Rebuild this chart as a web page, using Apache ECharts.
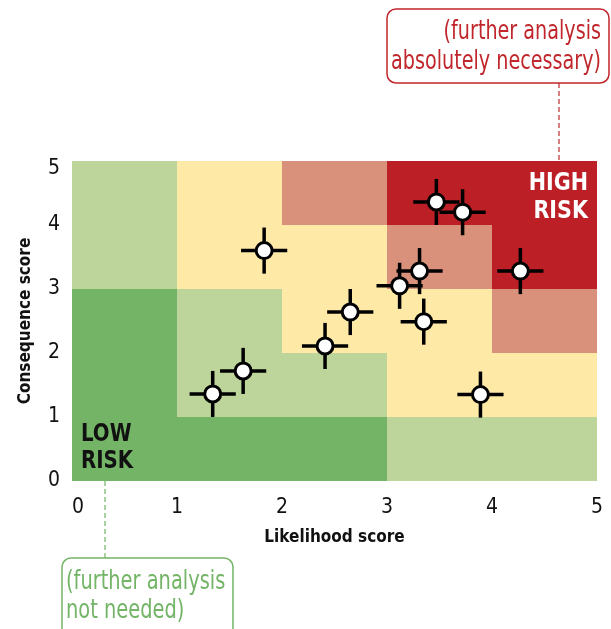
<!DOCTYPE html>
<html>
<head>
<meta charset="utf-8">
<script src="https://cdn.jsdelivr.net/npm/echarts@6/dist/echarts.min.js"></script>
<style>
  html, body { margin: 0; padding: 0; background: #fff; }
  #chart { width: 611px; height: 629px; }
</style>
</head>
<body>
<div id="chart"></div>
<script>
// risk level of each cell, rows = consequence 0..4, cols = likelihood 0..4
const riskRows = [
    [0, 0, 0, 1, 1],
    [0, 1, 1, 2, 2],
    [0, 1, 2, 2, 3],
    [1, 2, 2, 3, 4],
    [1, 2, 3, 4, 4]
];
const riskColors = ["#73b466", "#bdd59b", "#fee9a6", "#da917b", "#bc1f25"];

// assessed items
const likelihood = [1.34, 1.63, 1.83, 2.41, 2.65, 3.12, 3.31, 3.35, 3.47, 3.72, 4.27, 3.89];
const consequence = [1.36, 1.72, 3.6, 2.11, 2.64, 3.05, 3.28, 2.49, 4.36, 4.2, 3.28, 1.35];
const likelihoodErr = [0.22, 0.22, 0.22, 0.22, 0.22, 0.22, 0.22, 0.22, 0.22, 0.22, 0.22, 0.22];
const consequenceErr = [0.36, 0.36, 0.36, 0.36, 0.36, 0.36, 0.36, 0.36, 0.36, 0.36, 0.36, 0.36];

const ticks = [0, 1, 2, 3, 4, 5];

const FONT = "'DejaVu Sans Condensed', 'Liberation Sans', sans-serif";

const cells = [];
riskRows.forEach((row, y) => {
    row.forEach((lvl, x) => cells.push([x, y, lvl]));
});
const points = likelihood.map((x, i) => [x, consequence[i], likelihoodErr[i], consequenceErr[i]]);

const chart = echarts.init(document.getElementById("chart"));

const axisCommon = {
    type: "value",
    min: 0,
    max: 5,
    interval: 1,
    axisLine: { show: false },
    axisTick: { show: false },
    splitLine: { show: false },
    nameLocation: "middle",
    nameTextStyle: { fontFamily: FONT, fontWeight: "bold", fontSize: 17, color: "#111" },
    axisLabel: {
        fontFamily: FONT,
        fontSize: 21,
        color: "#111",
        formatter: (v) => (ticks.indexOf(v) >= 0 ? String(v) : "")
    }
};

// condensed-looking text drawn by the graphic component
function label(text, x, y, align, font, fill, lineHeight, sx) {
    return {
        type: "text",
        z: 10,
        x: x,
        y: y,
        scaleX: sx,
        style: { text, x: 0, y: 0, align, verticalAlign: "middle", font: font + " " + FONT, fill, lineHeight }
    };
}

const option = {
    animation: false,
    grid: { left: 72, right: 14, top: 161, bottom: 148 },
    xAxis: Object.assign({}, axisCommon, {
        name: "Likelihood score",
        nameGap: 48,
        axisLabel: Object.assign({}, axisCommon.axisLabel, { margin: 16, alignMinLabel: "left" })
    }),
    yAxis: Object.assign({}, axisCommon, {
        name: "Consequence score",
        nameGap: 38,
        axisLabel: Object.assign({}, axisCommon.axisLabel, {
            margin: 12,
            // top label sits a little below the grid edge
            formatter: (v) => (v === 5 ? "{top|5}" : ticks.indexOf(v) >= 0 ? String(v) : ""),
            rich: { top: { fontFamily: FONT, fontSize: 21, color: "#111", padding: [16, 0, 0, 0] } }
        })
    }),
    series: [
        {
            type: "custom",
            data: cells,
            z: 1,
            renderItem(params, api) {
                const p0 = api.coord([api.value(0), api.value(1) + 1]);
                const p1 = api.coord([api.value(0) + 1, api.value(1)]);
                return {
                    type: "rect",
                    shape: { x: p0[0], y: p0[1], width: p1[0] - p0[0], height: p1[1] - p0[1] },
                    style: { fill: riskColors[api.value(2)] }
                };
            }
        },
        {
            type: "custom",
            data: points,
            z: 3,
            renderItem(params, api) {
                const x = api.value(0), y = api.value(1);
                const ex = api.value(2), ey = api.value(3);
                const a = api.coord([x - ex, y]), b = api.coord([x + ex, y]);
                const c = api.coord([x, y - ey]), d = api.coord([x, y + ey]);
                const ls = { stroke: "#000", lineWidth: 3.5 };
                return {
                    type: "group",
                    children: [
                        { type: "line", shape: { x1: a[0], y1: a[1], x2: b[0], y2: b[1] }, style: ls },
                        { type: "line", shape: { x1: c[0], y1: c[1], x2: d[0], y2: d[1] }, style: ls }
                    ]
                };
            }
        },
        {
            type: "scatter",
            data: points.map((p) => [p[0], p[1]]),
            z: 4,
            symbol: "circle",
            symbolSize: 16,
            itemStyle: { color: "#fff", borderColor: "#000", borderWidth: 3, opacity: 1 }
        }
    ],
    graphic: [
        label("HIGH\nRISK", 588, 197, "right", "bold 25px", "#fff", 28, 0.92),
        label("LOW\nRISK", 81, 448, "left", "bold 25px", "#111", 27, 0.88),
        {
            type: "rect",
            shape: { x: 387, y: 9, width: 222, height: 74, r: 9 },
            style: { fill: "#fff", stroke: "#c0262b", lineWidth: 1.5 }
        },
        label("(further analysis\nabsolutely necessary)", 601, 47, "right", "26px", "#c0262b", 30, 0.82),
        {
            type: "line",
            shape: { x1: 559, y1: 83, x2: 559, y2: 161 },
            style: { stroke: "#c0262b", lineWidth: 1.2, lineDash: [5, 3] }
        },
        {
            type: "rect",
            shape: { x: 62, y: 558, width: 171, height: 90, r: 9 },
            style: { fill: "#fff", stroke: "#73b466", lineWidth: 1.5 }
        },
        label("(further analysis\nnot needed)", 66, 597, "left", "26px", "#73b466", 29, 0.83),
        {
            type: "line",
            shape: { x1: 105, y1: 481, x2: 105, y2: 558 },
            style: { stroke: "#73b466", lineWidth: 1.2, lineDash: [5, 3] }
        }
    ]
};

chart.setOption(option);
</script>
</body>
</html>
